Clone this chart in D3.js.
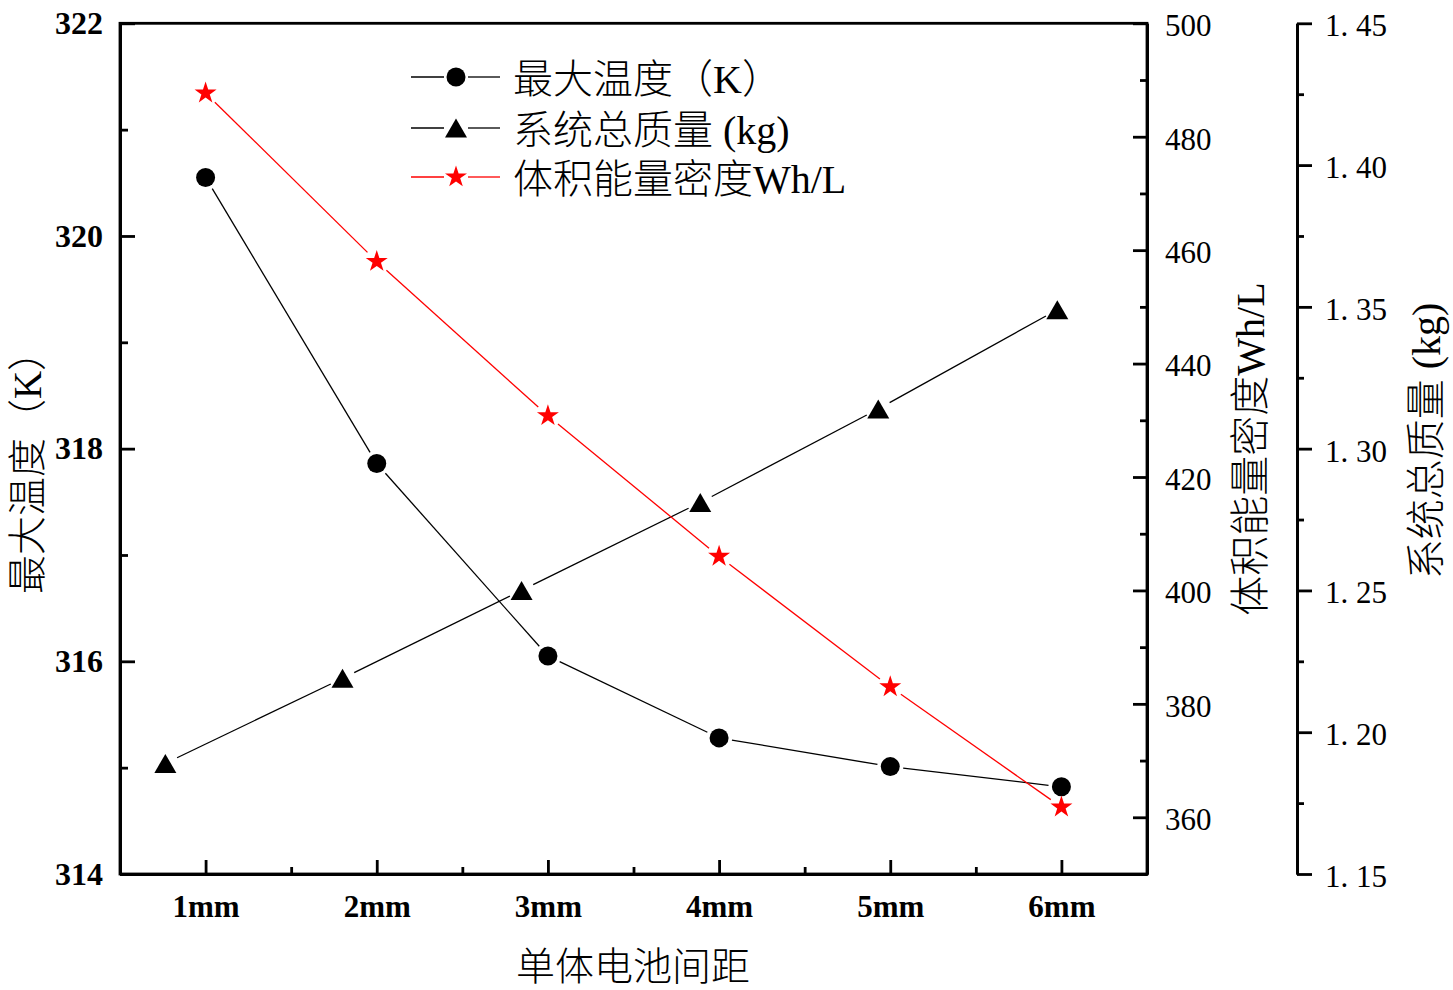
<!DOCTYPE html>
<html><head><meta charset="utf-8">
<script src="https://cdn.jsdelivr.net/npm/d3@7/dist/d3.min.js"></script>
<style>
html,body{margin:0;padding:0;background:#fff;}
svg{display:block;}
.cjk{font-family:"Liberation Serif","Noto Sans CJK SC",serif;font-weight:300;}
</style></head>
<body>
<svg id="chart" width="1453" height="990"></svg>
<script>
// ---- data ----
const spacingLabels = ["1mm","2mm","3mm","4mm","5mm","6mm"];
const spacingX = [1,2,3,4,5,6];
const maxTemp = [320.55, 317.86, 316.05, 315.28, 315.01, 314.82];
const massX = [0.765, 1.80, 2.846, 3.89, 4.93, 5.976];
const totalMass = [1.189, 1.219, 1.250, 1.281, 1.314, 1.349];
const energyDensity = [487.7, 458.0, 430.8, 406.0, 383.0, 361.8];
const tempTicks = [314,316,318,320,322];
const tempMinor = [315,317,319,321];
const densTicks = [360,380,400,420,440,460,480,500];
const densMinor = [350,370,390,410,430,450,470,490];
const massTicks = [1.15,1.20,1.25,1.30,1.35,1.40,1.45];
const massMinor = [1.175,1.225,1.275,1.325,1.375,1.425];
const legendLabels = ["最大温度（K）","系统总质量 (kg)","体积能量密度Wh/L"];
const titles = {x:"单体电池间距", left:"最大温度（K）", right:"体积能量密度Wh/L", far:"系统总质量 (kg)"};

// ---- layout ----
const L=120, R=1147, T=23.3, B=874, FAR=1297;
const svg = d3.select("#chart");
const x = d3.scaleLinear().domain([0.5,6.5]).range([L,R]);
const yT = d3.scaleLinear().domain([314,322]).range([B,T]);
const yD = d3.scaleLinear().domain([350,500]).range([B,T]);
const yM = d3.scaleLinear().domain([1.15,1.45]).range([B,T]);

const AX_W = 2.8;
function styleAxis(g, font, weight, size){
  g.selectAll("path.domain").attr("stroke","#000").attr("stroke-width",AX_W);
  g.selectAll(".tick line").attr("stroke","#000").attr("stroke-width",AX_W);
  g.selectAll(".tick text").attr("fill","#000").attr("font-family",font)
    .attr("font-weight",weight).attr("font-size",size);
}
const serif = '"Liberation Serif","Times New Roman",serif';

// frame
svg.append("rect").attr("x",L).attr("y",T).attr("width",R-L).attr("height",B-T)
  .attr("fill","none").attr("stroke","#000").attr("stroke-width",AX_W);

// left axis
const gL = svg.append("g").attr("transform",`translate(${L},0)`)
  .call(d3.axisLeft(yT).tickValues(tempTicks).tickSize(-15).tickSizeOuter(0).tickPadding(17).tickFormat(d3.format("d")));
styleAxis(gL, serif, "bold", 32);
const gLm = svg.append("g").attr("transform",`translate(${L},0)`)
  .call(d3.axisLeft(yT).tickValues(tempMinor).tickSize(-8).tickSizeOuter(0).tickFormat(""));
styleAxis(gLm, serif, "normal", 30);

// bottom axis
const gB = svg.append("g").attr("transform",`translate(0,${B})`)
  .call(d3.axisBottom(x).tickValues(spacingX).tickSize(-14).tickSizeOuter(0).tickPadding(21).tickFormat((d,i)=>spacingLabels[i]));
styleAxis(gB, serif, "bold", 31);
const gBm = svg.append("g").attr("transform",`translate(0,${B})`)
  .call(d3.axisBottom(x).tickValues([1.5,2.5,3.5,4.5,5.5]).tickSize(-7).tickSizeOuter(0).tickFormat(""));
styleAxis(gBm, serif, "normal", 30);

// right axis (density)
const gR = svg.append("g").attr("transform",`translate(${R},0)`)
  .call(d3.axisRight(yD).tickValues(densTicks).tickSize(-14).tickSizeOuter(0).tickPadding(18).tickFormat(d3.format("d")));
styleAxis(gR, serif, "normal", 31);
gR.selectAll(".tick text").attr("dy","0.40em");
const gRm = svg.append("g").attr("transform",`translate(${R},0)`)
  .call(d3.axisRight(yD).tickValues(densMinor).tickSize(-7).tickSizeOuter(0).tickFormat(""));
styleAxis(gRm, serif, "normal", 31);

// far right axis (mass)
const gF = svg.append("g").attr("transform",`translate(${FAR},0)`)
  .call(d3.axisRight(yM).tickValues(massTicks).tickSize(15).tickSizeOuter(0).tickPadding(13)
    .tickFormat(d=>{const s=d3.format(".2f")(d); return s.replace(".",". ");}));
styleAxis(gF, serif, "normal", 31);
gF.selectAll(".tick text").attr("dy","0.40em").style("white-space","pre").attr("xml:space","preserve");
const gFm = svg.append("g").attr("transform",`translate(${FAR},0)`)
  .call(d3.axisRight(yM).tickValues(massMinor).tickSize(7).tickSizeOuter(0).tickFormat(""));
styleAxis(gFm, serif, "normal", 31);

// ---- series ----
const GAP = 13;
function gappedSegments(pts){
  const segs=[];
  for(let i=0;i<pts.length-1;i++){
    const [x0,y0]=pts[i],[x1,y1]=pts[i+1];
    const dx=x1-x0, dy=y1-y0, len=Math.hypot(dx,dy);
    const ux=dx/len, uy=dy/len;
    segs.push([x0+ux*GAP,y0+uy*GAP,x1-ux*GAP,y1-uy*GAP]);
  }
  return segs;
}
function drawSeries(pts,color,symbolPath){
  const g=svg.append("g");
  g.selectAll("line").data(gappedSegments(pts)).join("line")
    .attr("x1",d=>d[0]).attr("y1",d=>d[1]).attr("x2",d=>d[2]).attr("y2",d=>d[3])
    .attr("stroke",color).attr("stroke-width",1.3);
  g.selectAll("path.m").data(pts).join("path").attr("class","m")
    .attr("transform",d=>`translate(${d[0]},${d[1]})`)
    .attr("d",symbolPath).attr("fill",color);
}
const circlePath = d3.symbol(d3.symbolCircle, Math.PI*9.5*9.5)();
const triPath = "M0,-9.5L11,9.5L-11,9.5Z";
const starPath = d3.symbol(d3.symbolStar, 150)();

drawSeries(maxTemp.map((v,i)=>[x(spacingX[i]),yT(v)]),"#000",circlePath);
drawSeries(totalMass.map((v,i)=>[x(massX[i]),yM(v)]),"#000",triPath);
drawSeries(energyDensity.map((v,i)=>[x(spacingX[i]),yD(v)]),"#ff0000",starPath);

// ---- legend ----
const legColors=["#000","#000","#ff0000"];
const legSyms=[circlePath,triPath,starPath];
const legY=[77,128,177];
legendLabels.forEach((lab,i)=>{
  const g=svg.append("g");
  g.append("line").attr("x1",411).attr("x2",444).attr("y1",legY[i]).attr("y2",legY[i]).attr("stroke",legColors[i]).attr("stroke-width",1.3);
  g.append("line").attr("x1",468).attr("x2",500).attr("y1",legY[i]).attr("y2",legY[i]).attr("stroke",legColors[i]).attr("stroke-width",1.3);
  g.append("path").attr("transform",`translate(456,${legY[i]})`).attr("d",legSyms[i]).attr("fill",legColors[i]);
  g.append("text").attr("class","cjk").attr("x",513).attr("y",legY[i]+2).attr("dominant-baseline","central")
    .attr("font-size",40).attr("fill","#000").text(lab);
});

// ---- titles ----
svg.append("text").attr("class","cjk").attr("x",633).attr("y",966).attr("text-anchor","middle")
  .attr("dominant-baseline","central").attr("font-size",39).text(titles.x);
svg.append("text").attr("class","cjk").attr("transform","translate(27,463) rotate(-90)").attr("text-anchor","middle")
  .attr("dominant-baseline","central").attr("font-size",39).text(titles.left);
svg.append("text").attr("class","cjk").attr("transform","translate(1250,449) rotate(-90)").attr("text-anchor","middle")
  .attr("dominant-baseline","central").attr("font-size",40).text(titles.right);
svg.append("text").attr("class","cjk").attr("transform","translate(1426,441) rotate(-90)").attr("text-anchor","middle")
  .attr("dominant-baseline","central").attr("font-size",40).text(titles.far);
</script>
</body></html>
